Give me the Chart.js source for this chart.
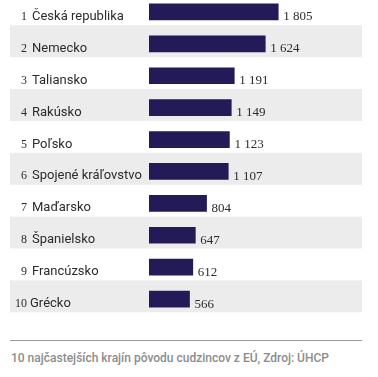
<!DOCTYPE html>
<html>
<head>
<meta charset="utf-8">
<script src="https://cdn.jsdelivr.net/npm/chart.js@4"></script>
<style>
html,body{margin:0;padding:0;background:#fff;width:378px;height:377px;overflow:hidden;position:relative;}
#wrap{position:absolute;left:0;top:-4px;width:378px;height:319px;}
#rule{position:absolute;left:10px;top:340px;width:352px;height:1px;background:#9a9a9a;}
#cap{position:absolute;left:11px;top:351px;font:500 12px Roboto, sans-serif;color:#8c8c8c;white-space:nowrap;}
</style>
</head>
<body>
<div id="wrap"><canvas id="c" width="378" height="319"></canvas></div>
<div id="rule"></div>
<div id="cap">10 najčastejších krajín pôvodu cudzincov z EÚ, Zdroj: ÚHCP</div>
<script>
const ranks = ["1","2","3","4","5","6","7","8","9","10"];
const countries = ["Česká republika","Nemecko","Taliansko","Rakúsko","Poľsko","Spojené kráľovstvo","Maďarsko","Španielsko","Francúzsko","Grécko"];
const values = [1805,1624,1191,1149,1123,1107,804,647,612,566];

function fmt(v){ return String(v).replace(/\B(?=(\d{3})+(?!\d))/g, " "); }

const bands = {
  id:'bands',
  beforeDatasetsDraw(chart){
    const ctx = chart.ctx, ys = chart.scales.y;
    const pitch = (chart.chartArea.bottom - chart.chartArea.top)/countries.length;
    ctx.save();
    ctx.fillStyle = '#ececec';
    for(let i=1;i<countries.length;i+=2){
      const y = ys.getPixelForTick(i);
      ctx.fillRect(10, y - pitch/2 - 2.7, 352, pitch);
    }
    ctx.restore();
  }
};
const labels = {
  id:'labels',
  afterDatasetsDraw(chart){
    const ctx = chart.ctx, ys = chart.scales.y;
    const meta = chart.getDatasetMeta(0);
    ctx.save();
    ctx.textBaseline = 'alphabetic';
    countries.forEach((c,i)=>{
      const y = ys.getPixelForTick(i);
      ctx.fillStyle = '#2b2b2b';
      ctx.font = '12px "Liberation Serif", serif';
      ctx.textAlign = 'right';
      ctx.fillText(ranks[i], 27, y + 8);
      ctx.font = '13px Roboto, sans-serif';
      ctx.textAlign = 'left';
      ctx.fillText(c, i===9 ? 30 : 32, y + 8);
      ctx.font = '13px "Liberation Serif", serif';
      ctx.fillText(fmt(values[i]), meta.data[i].x + 5, y + 8.5);
    });
    ctx.restore();
  }
};

new Chart(document.getElementById('c'), {
  type:'bar',
  data:{ labels: countries, datasets:[{ data: values, backgroundColor:'#231b57', borderWidth:0, barThickness:16 }]},
  options:{
    indexAxis:'y',
    responsive:false,
    animation:false,
    devicePixelRatio:1,
    layout:{ padding:{ left:149, right:50, top:0, bottom:0 } },
    plugins:{ legend:{display:false}, tooltip:{enabled:false} },
    scales:{
      x:{ display:false, min:0, max:2500 },
      y:{ display:false }
    }
  },
  plugins:[bands, labels]
});
</script>
</body>
</html>
